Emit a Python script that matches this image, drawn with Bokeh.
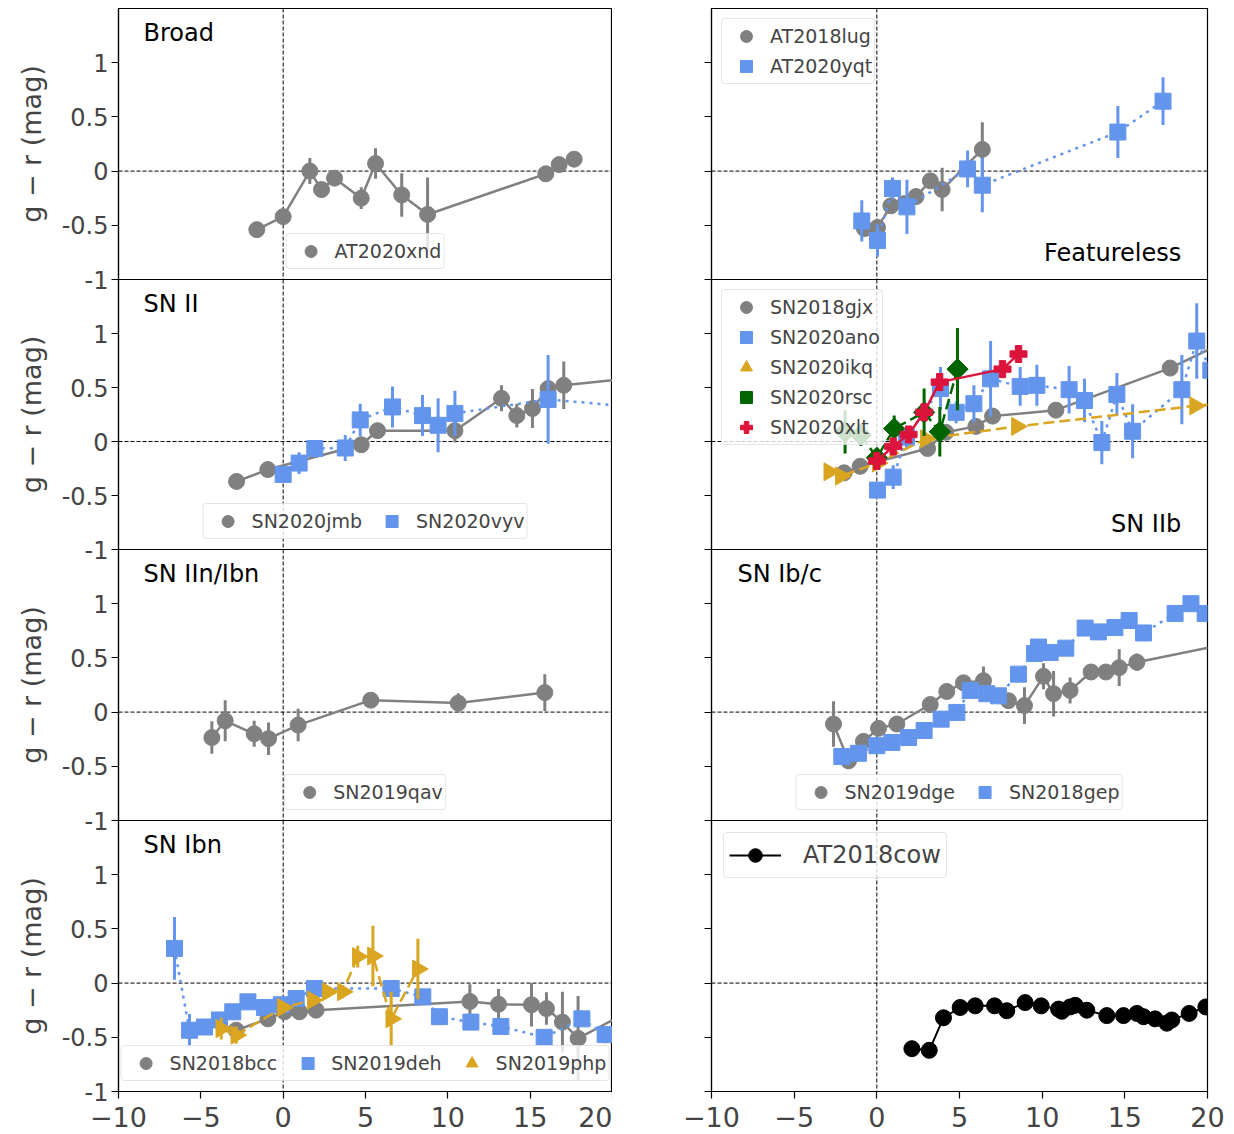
import numpy as np
from bokeh.plotting import figure
from bokeh.models import ColumnDataSource, Range1d, Span, Label, Legend, LegendItem, FixedTicker
from bokeh.layouts import column, row
from bokeh.embed import file_html
from bokeh.resources import INLINE

FONT = "DejaVu Sans"
GRAY = "#808080"
BLUE = "#6495ED"
GOLD = "#DAA520"
GREEN = "#006400"
RED = "#DC143C"
BLACK = "#000000"

X_TICKS = [-10, -5, 0, 5, 10, 15, 20]
X_TICK_LABELS = ["\u221210", "\u22125", "0", "5", "10", "15", "20"]
Y_TICKS = [-1, -0.5, 0, 0.5, 1]
Y_TICK_LABELS = ["-1", "-0.5", "0", "0.5", "1"]
Y_LABEL = "g \u2212 r (mag)"
PANEL_NAMES = ["Broad", "Featureless", "SN II", "SN IIb", "SN IIn/Ibn", "SN Ib/c", "SN Ibn", ""]

# ---- Broad ----
xnd_t = [-1.6, 0.0, 1.62, 2.33, 3.12, 4.74, 5.61, 7.2, 8.77, 15.95, 16.76, 17.67]
xnd_c = [-0.54, -0.42, 0.0, -0.17, -0.065, -0.25, 0.07, -0.22, -0.40, -0.025, 0.06, 0.11]
xnd_e = [0.03, 0.04, 0.12, 0.05, 0.04, 0.1, 0.14, 0.2, 0.34, 0.03, 0.03, 0.03]

# ---- Featureless ----
lug_t = [-0.75, 0.04, 0.85, 1.68, 2.37, 3.24, 3.95, 6.38]
lug_c = [-0.53, -0.52, -0.32, -0.30, -0.235, -0.09, -0.17, 0.20]
lug_e = [0.05, 0.05, 0.04, 0.04, 0.06, 0.06, 0.2, 0.25]
yqt_t = [-0.91, 0.04, 0.95, 1.82, 5.49, 6.38, 14.58, 17.31]
yqt_c = [-0.46, -0.64, -0.16, -0.33, 0.02, -0.13, 0.36, 0.645]
yqt_e = [0.19, 0.15, 0.1, 0.25, 0.17, 0.25, 0.24, 0.22]

# ---- SN II ----
jmb_t = [-2.83, -0.93, 4.74, 5.73, 10.43, 13.26, 14.19, 15.14, 16.09, 17.04, 22.0]
jmb_c = [-0.37, -0.26, -0.03, 0.10, 0.10, 0.40, 0.24, 0.305, 0.49, 0.52, 0.60]
jmb_e = [0.02, 0.02, 0.03, 0.03, 0.11, 0.12, 0.11, 0.18, 0.05, 0.22, 0.05]
vyv_t = [0.0, 0.97, 1.92, 3.77, 4.68, 6.64, 8.46, 9.41, 10.43, 16.09, 22.0]
vyv_c = [-0.305, -0.20, -0.065, -0.06, 0.20, 0.32, 0.24, 0.15, 0.26, 0.39, 0.31]
vyv_e = [0.03, 0.1, 0.04, 0.12, 0.15, 0.19, 0.19, 0.25, 0.21, 0.41, 0.1]

# ---- SN IIb ----
gjx_t = [-1.98, -1.01, 3.07, 4.17, 5.99, 7.0, 10.83, 17.74, 21.0]
gjx_c = [-0.29, -0.23, -0.065, 0.085, 0.14, 0.235, 0.29, 0.68, 0.92]
gjx_e = [0.02, 0.02, 0.02, 0.02, 0.02, 0.02, 0.02, 0.02, 0.02]
ano_t = [0.04, 0.99, 1.8, 3.85, 4.8, 5.87, 6.88, 8.67, 9.68, 11.63, 12.56, 13.61, 14.52, 15.47, 18.45, 19.35, 20.2]
ano_c = [-0.45, -0.33, 0.04, 0.49, 0.27, 0.35, 0.58, 0.51, 0.52, 0.48, 0.38, -0.01, 0.435, 0.095, 0.48, 0.93, 0.66]
ano_e = [0.05, 0.11, 0.1, 0.2, 0.1, 0.17, 0.35, 0.18, 0.19, 0.22, 0.2, 0.2, 0.2, 0.25, 0.32, 0.35, 0.15]
ikq_t = [-2.88, -2.18, 0.05, 2.96, 8.47, 19.25, 22.0]
ikq_c = [-0.28, -0.32, -0.2, 0.025, 0.14, 0.33, 0.37]
ikq_e = [0.03, 0.03, 0.03, 0.03, 0.03, 0.03, 0.03]
rsc_t = [-1.92, -0.97, 0.0, 1.05, 2.86, 3.81, 4.88]
rsc_c = [0.09, 0.06, -0.15, 0.12, 0.27, 0.09, 0.67]
rsc_e = [0.2, 0.1, 0.08, 0.12, 0.22, 0.23, 0.38]
xlt_t = [0.0, 0.99, 1.92, 2.86, 3.8, 7.6, 8.57]
xlt_c = [-0.18, -0.046, 0.065, 0.27, 0.55, 0.67, 0.81]
xlt_e = [0.04, 0.04, 0.04, 0.06, 0.08, 0.04, 0.06]

# ---- SN IIn/Ibn ----
qav_t = [-4.33, -3.52, -1.76, -0.89, 0.91, 5.32, 10.63, 15.89]
qav_c = [-0.235, -0.08, -0.20, -0.245, -0.12, 0.11, 0.083, 0.18]
qav_e = [0.15, 0.19, 0.12, 0.15, 0.15, 0.03, 0.09, 0.17]

# ---- SN Ib/c ----
dge_t = [-2.62, -1.71, -0.81, 0.1, 1.21, 3.23, 4.23, 5.24, 6.45, 7.96, 8.93, 10.08, 10.69, 11.69, 12.96, 13.85, 14.66, 15.73, 21.5]
dge_c = [-0.11, -0.45, -0.27, -0.15, -0.11, 0.07, 0.19, 0.27, 0.29, 0.105, 0.06, 0.33, 0.17, 0.2, 0.37, 0.37, 0.41, 0.46, 0.64]
dge_e = [0.21, 0.03, 0.03, 0.03, 0.03, 0.03, 0.03, 0.03, 0.13, 0.03, 0.17, 0.12, 0.21, 0.12, 0.03, 0.03, 0.17, 0.08, 0.05]
gep_t = [-2.12, -1.11, 0.0, 0.91, 1.92, 2.86, 3.89, 4.84, 5.65, 6.65, 7.36, 8.57, 9.54, 9.78, 10.48, 11.43, 12.6, 13.4, 14.4, 15.26, 16.13, 18.04, 19.0, 19.86]
gep_c = [-0.41, -0.38, -0.31, -0.28, -0.235, -0.17, -0.065, -0.003, 0.2, 0.17, 0.15, 0.35, 0.54, 0.6, 0.55, 0.59, 0.775, 0.74, 0.78, 0.845, 0.73, 0.91, 1.0, 0.91]
gep_e = [0.02] * 24

# ---- SN Ibn ----
bcc_t = [-2.85, -0.93, 0.08, 0.99, 2.0, 11.34, 13.08, 15.08, 15.99, 16.96, 17.91, 21.0]
bcc_c = [-0.435, -0.33, -0.265, -0.265, -0.25, -0.17, -0.195, -0.2, -0.235, -0.36, -0.51, -0.26]
bcc_e = [0.03, 0.03, 0.03, 0.03, 0.03, 0.16, 0.14, 0.2, 0.15, 0.28, 0.39, 0.05]
deh_t = [-6.6, -5.69, -4.78, -3.87, -3.06, -2.14, -1.13, -0.12, 0.79, 1.9, 6.56, 8.48, 9.49, 11.4, 13.22, 15.85, 18.14, 19.55, 21.0]
deh_c = [0.32, -0.435, -0.405, -0.34, -0.265, -0.173, -0.225, -0.2, -0.142, -0.05, -0.05, -0.127, -0.31, -0.36, -0.40, -0.5, -0.33, -0.475, -0.3]
deh_e = [0.29, 0.15, 0.03, 0.03, 0.03, 0.03, 0.03, 0.03, 0.03, 0.07, 0.06, 0.03, 0.03, 0.03, 0.03, 0.03, 0.07, 0.08, 0.05]
php_t = [-3.76, -2.85, -0.02, 1.8, 2.71, 3.62, 4.53, 5.45, 6.56, 8.18]
php_c = [-0.42, -0.48, -0.225, -0.157, -0.08, -0.08, 0.245, 0.25, -0.33, 0.13]
php_e = [0.1, 0.08, 0.03, 0.03, 0.03, 0.06, 0.1, 0.28, 0.25, 0.28]

# ---- AT2018cow ----
cow_t = [2.12, 3.17, 4.03, 5.04, 5.95, 7.12, 7.86, 8.97, 9.94, 10.99, 11.19, 11.69, 12.0, 12.7, 13.91, 14.92, 15.73, 16.13, 16.83, 17.54, 17.84, 18.89, 19.9, 21.0]
cow_c = [-0.605, -0.62, -0.32, -0.225, -0.21, -0.21, -0.255, -0.18, -0.21, -0.24, -0.26, -0.22, -0.205, -0.25, -0.30, -0.30, -0.28, -0.31, -0.33, -0.37, -0.34, -0.28, -0.22, -0.2]
cow_e = [0.02] * 24

FRAME_H = [271, 270, 271, 271]
OVERLAP = 14


def make_fig(ci, ri):
    left = ci == 0
    bottom = ri == 3
    p = figure(
        frame_width=494 if left else 496,
        frame_height=FRAME_H[ri],
        x_range=Range1d(-10, 20), y_range=Range1d(-1, 1.5),
        output_backend="svg", toolbar_location=None,
        x_axis_location="below" if bottom else None,
        min_border_left=118 if left else 99,
        min_border_right=0 if left else 20,
        min_border_top=8 if ri == 0 else 0,
        min_border_bottom=43 if bottom else OVERLAP,
        background_fill_color="white", border_fill_color="white",
        border_fill_alpha=0.0,
        outline_line_color="black", outline_line_width=1.2,
    )
    p.grid.visible = False
    ya = p.yaxis[0]
    ya.ticker = FixedTicker(ticks=Y_TICKS)
    if left:
        ya.major_label_overrides = dict(zip(Y_TICKS, Y_TICK_LABELS))
        ya.axis_label = Y_LABEL
        ya.axis_label_text_font = FONT
        ya.axis_label_text_font_size = "27px"
        ya.axis_label_text_font_style = "normal"
        ya.axis_label_standoff = 12
    else:
        ya.major_label_overrides = {t: "" for t in Y_TICKS}
    ya.major_label_text_font = FONT
    ya.major_label_text_font_size = "24px"
    ya.major_label_standoff = 3
    ya.minor_tick_line_color = None
    ya.major_tick_in = 0
    ya.major_tick_out = 7
    ya.major_tick_line_width = 1.2
    ya.axis_line_width = 1.2
    if bottom:
        xa = p.xaxis[0]
        xa.ticker = FixedTicker(ticks=X_TICKS)
        xa.major_label_overrides = dict(zip(X_TICKS, X_TICK_LABELS))
        xa.major_label_text_font = FONT
        xa.major_label_text_font_size = "27px"
        xa.major_label_standoff = 8
        xa.minor_tick_line_color = None
        xa.major_tick_in = 0
        xa.major_tick_out = 7
        xa.major_tick_line_width = 1.2
        xa.axis_line_width = 1.2
    p.add_layout(Span(location=0, dimension="width", line_color="black", line_width=1,
                      line_dash="4 2", level="underlay"))
    p.add_layout(Span(location=0, dimension="height", line_color="black", line_width=1,
                      line_dash="4 2", level="underlay"))
    return p


def series(p, t, c, e, color, marker, dash="solid", size=16, angle=0.0, lw=2.5, elw=3):
    src = ColumnDataSource(dict(x=t, y=c,
                                lo=[a - b for a, b in zip(c, e)],
                                hi=[a + b for a, b in zip(c, e)]))
    ln = p.line("x", "y", source=src, line_color=color, line_width=lw, line_dash=dash)
    p.segment(x0="x", y0="lo", x1="x", y1="hi", source=src, line_color=color, line_width=elw)
    sc = p.scatter("x", "y", source=src, marker=marker, size=size, angle=angle,
                   fill_color=color, line_color=color)
    return ln, sc


def legend(p, items, location, orientation="vertical", font_size="19px", spacing=0,
           glyph_width=44, glyph_height=30, standoff=2, margin=10, padding=2):
    lg = Legend(items=[LegendItem(label=l, renderers=r) for l, r in items],
                location=location, orientation=orientation,
                label_text_font=FONT, label_text_font_size=font_size,
                glyph_width=glyph_width, glyph_height=glyph_height, label_standoff=standoff,
                margin=margin, padding=padding, spacing=spacing,
                border_line_color="#cccccc", border_line_width=1.5,
                background_fill_color="white", background_fill_alpha=0.8)
    if "border_radius" in Legend.properties():
        lg.border_radius = 4
    p.add_layout(lg)


def panel_label(p, text, x, y, align="left"):
    p.add_layout(Label(x=x, y=y, text=text, text_font=FONT, text_font_size="24px",
                       text_align=align, text_baseline="alphabetic", text_color="black"))


DOT = "3 5"
DASH = "11 5"
TRI = -np.pi / 2
DIA = np.pi / 4
TOP_Y = 1.272

# Row 1
p1 = make_fig(0, 0)
_, s = series(p1, xnd_t, xnd_c, xnd_e, GRAY, "circle")
legend(p1, [("AT2020xnd", [s])], "bottom_center")
panel_label(p1, PANEL_NAMES[0], -8.48, TOP_Y)

p2 = make_fig(1, 0)
_, s1 = series(p2, lug_t, lug_c, lug_e, GRAY, "circle")
_, s2 = series(p2, yqt_t, yqt_c, yqt_e, BLUE, "square", dash=DOT)
legend(p2, [("AT2018lug", [s1]), ("AT2020yqt", [s2])], "top_left")
panel_label(p2, PANEL_NAMES[1], 18.41, -0.755, "right")

# Row 2
p3 = make_fig(0, 1)
_, s1 = series(p3, jmb_t, jmb_c, jmb_e, GRAY, "circle")
_, s2 = series(p3, vyv_t, vyv_c, vyv_e, BLUE, "square", dash=DOT)
legend(p3, [("SN2020jmb", [s1]), ("SN2020vyv", [s2])], "bottom_center", "horizontal", spacing=8)
panel_label(p3, PANEL_NAMES[2], -8.48, TOP_Y)

p4 = make_fig(1, 1)
_, s1 = series(p4, gjx_t, gjx_c, gjx_e, GRAY, "circle")
_, s2 = series(p4, ano_t, ano_c, ano_e, BLUE, "square", dash=DOT)
_, s3 = series(p4, ikq_t, ikq_c, ikq_e, GOLD, "triangle", dash=DASH, size=18, angle=TRI)
_, s4 = series(p4, rsc_t, rsc_c, rsc_e, GREEN, "square", dash=DASH, size=15, angle=DIA)
_, s5 = series(p4, xlt_t, xlt_c, xlt_e, RED, "plus", size=17)
legend(p4, [("SN2018gjx", [s1]), ("SN2020ano", [s2]), ("SN2020ikq", [s3]),
            ("SN2020rsc", [s4]), ("SN2020xlt", [s5])], "top_left")
panel_label(p4, PANEL_NAMES[3], 18.41, -0.762, "right")

# Row 3
p5 = make_fig(0, 2)
_, s = series(p5, qav_t, qav_c, qav_e, GRAY, "circle")
legend(p5, [("SN2019qav", [s])], "bottom_center")
panel_label(p5, PANEL_NAMES[4], -8.48, TOP_Y)

p6 = make_fig(1, 2)
_, s1 = series(p6, dge_t, dge_c, dge_e, GRAY, "circle")
_, s2 = series(p6, gep_t, gep_c, gep_e, BLUE, "square", dash=DOT)
legend(p6, [("SN2019dge", [s1]), ("SN2018gep", [s2])], "bottom_center", "horizontal", spacing=8)
panel_label(p6, PANEL_NAMES[5], -8.43, TOP_Y)

# Row 4
p7 = make_fig(0, 3)
_, s1 = series(p7, bcc_t, bcc_c, bcc_e, GRAY, "circle")
_, s2 = series(p7, deh_t, deh_c, deh_e, BLUE, "square", dash=DOT)
_, s3 = series(p7, php_t, php_c, php_e, GOLD, "triangle", dash=DASH, size=18, angle=TRI)
legend(p7, [("SN2018bcc", [s1]), ("SN2019deh", [s2]), ("SN2019php", [s3])],
       "bottom_center", "horizontal", spacing=8, margin=10)
panel_label(p7, PANEL_NAMES[6], -8.48, TOP_Y)

p8 = make_fig(1, 3)
l8, s8 = series(p8, cow_t, cow_c, cow_e, BLACK, "circle", lw=2)
legend(p8, [("AT2018cow", [l8, s8])], "top_left", font_size="24px", glyph_width=52,
       glyph_height=34, standoff=22, margin=12, padding=5)

neg = (0, 0, -OVERLAP, 0)
layout = column(row(p1, p2, margin=neg), row(p3, p4, margin=neg),
                row(p5, p6, margin=neg), row(p7, p8))
open("out.html", "w").write(file_html(layout, INLINE))
